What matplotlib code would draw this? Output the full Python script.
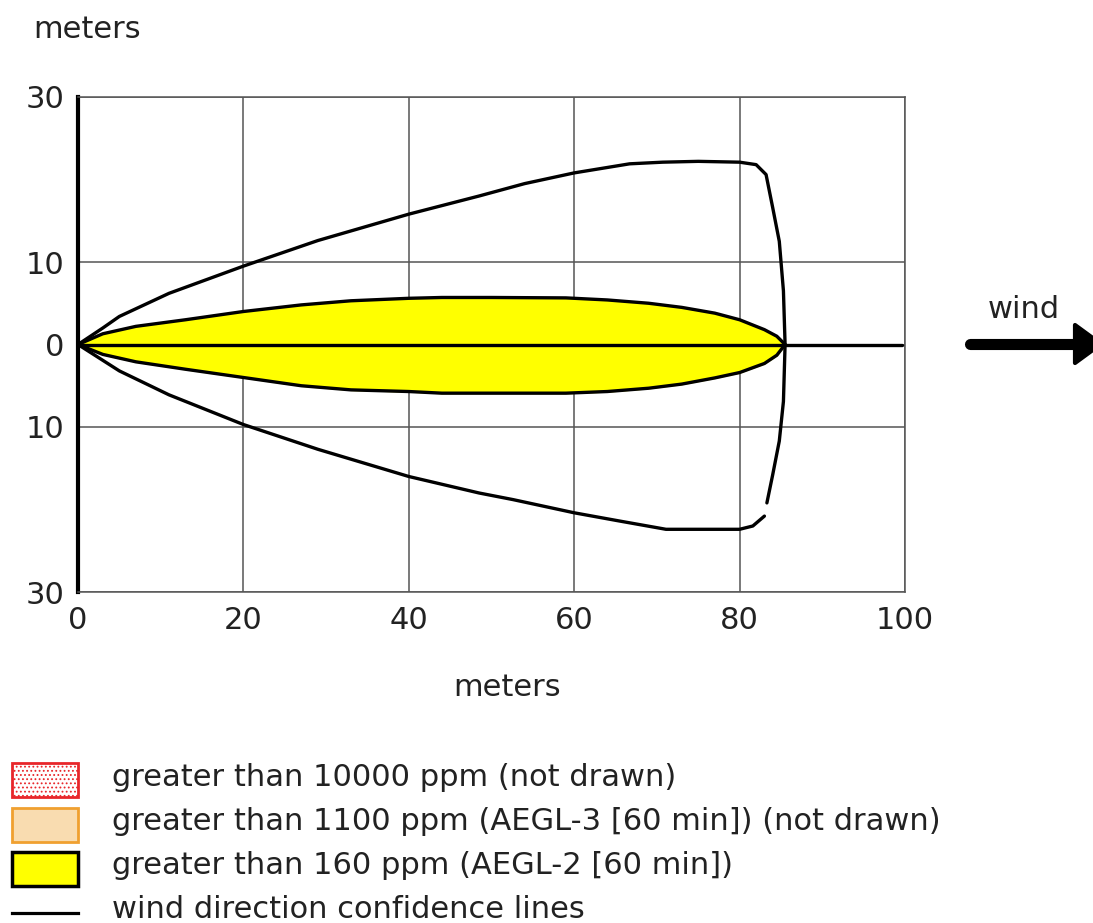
import numpy as np
import matplotlib.pyplot as plt
from matplotlib.patches import Rectangle, FancyArrow

# threat zone (AEGL-2) outline, meters
zone_x = [0, 3, 7, 13, 20, 27, 33, 40, 44, 50, 59, 64, 69, 73, 77, 80, 83, 84.5, 85.5]
zone_upper = [0, 1.3, 2.2, 3.0, 4.0, 4.8, 5.3, 5.6, 5.7, 5.7, 5.65, 5.4, 5.0, 4.5, 3.8, 3.0, 1.8, 1.0, 0]
zone_lower = [0, -1.2, -2.1, -3.0, -4.0, -5.0, -5.5, -5.7, -5.9, -5.9, -5.9, -5.7, -5.3, -4.8, -4.05, -3.4, -2.3, -1.3, 0]

# wind direction confidence lines
conf_up_x = [0, 3, 5, 11, 20, 29, 40, 48.5, 54, 60, 66.7, 70.7, 75, 80, 82, 83.2, 84.0, 84.8,
             85.3, 85.5, 85.3, 84.8, 84.0, 83.3]
conf_up_y = [0, 2.0, 3.4, 6.2, 9.5, 12.6, 15.8, 18.0, 19.5, 20.8, 21.9, 22.1, 22.2, 22.1, 21.8, 20.6,
             16.6, 12.5, 6.5, 0, -6.9, -11.7, -15.8, -19.2]
conf_lo_x = [0, 5, 11, 20, 29, 40, 48.5, 52.6, 60, 65.5, 71.1, 75, 80, 81.6, 83.0]
conf_lo_y = [0, -3.2, -6.1, -9.7, -12.7, -16.0, -18.0, -18.8, -20.4, -21.4, -22.4, -22.4, -22.4, -22.0, -20.8]

center_x = [0, 99.6]
center_y = [0, 0]

x_ticks = [0, 20, 40, 60, 80, 100]
y_ticks = [-30, -10, 0, 10, 30]

legend_labels = ['greater than 10000 ppm (not drawn)',
                 'greater than 1100 ppm (AEGL-3 [60 min]) (not drawn)',
                 'greater than 160 ppm (AEGL-2 [60 min])',
                 'wind direction confidence lines']

FS = 22
TXT = '#222222'
plt.rcParams['hatch.linewidth'] = 0.8

W, H = 1093, 923
fig = plt.figure(figsize=(W / 100, H / 100), dpi=100)
ax = fig.add_axes([78 / W, 1 - 592 / H, 827 / W, 495 / H])

ax.fill_between(zone_x, zone_lower, zone_upper, color='#ffff00', zorder=2)
line_kw = dict(color='black', lw=2.4, zorder=3, solid_capstyle='round', solid_joinstyle='round')
ax.plot(zone_x, zone_upper, **line_kw)
ax.plot(zone_x, zone_lower, **line_kw)
ax.plot(center_x, center_y, **line_kw)
ax.plot(conf_up_x, conf_up_y, **line_kw)
ax.plot(conf_lo_x, conf_lo_y, **line_kw)

ax.set_xlim(0, 100)
ax.set_ylim(-30, 30)
ax.set_xticks(x_ticks)
ax.set_yticks(y_ticks)
ax.set_yticklabels([str(abs(v)) for v in y_ticks])
ax.tick_params(length=0, labelsize=FS, pad=10, labelcolor=TXT)
ax.grid(True, color='#555555', lw=1.1)
ax.set_axisbelow(True)
for s in ['top', 'right', 'bottom']:
    ax.spines[s].set_color('#555555')
    ax.spines[s].set_linewidth(1.1)
ax.spines['left'].set_linewidth(3)
ax.spines['left'].set_color('black')

fig.text(33 / W, 1 - 30 / H, 'meters', fontsize=FS, va='center', ha='left', color=TXT)
fig.text(507 / W, 1 - 688 / H, 'meters', fontsize=FS, va='center', ha='center', color=TXT)

# overlay in pixel coordinates for wind arrow and legend
ov = fig.add_axes([0, 0, 1, 1])
ov.set_xlim(0, W)
ov.set_ylim(H, 0)
ov.axis('off')

ov.text(1024, 310, 'wind', fontsize=FS, ha='center', va='center', color=TXT)
ov.plot([970, 1075], [344, 344], color='black', lw=8, solid_capstyle='round')
ov.add_patch(FancyArrow(1070, 344, 5, 0, width=0, head_width=38, head_length=26,
                        length_includes_head=False, color='black', joinstyle='round',
                        lw=3))

ov.add_patch(Rectangle((12, 763), 66, 34, facecolor='white', edgecolor='#e8262a',
                       lw=2, hatch='....'))
ov.add_patch(Rectangle((12, 808), 66, 34, facecolor='#f9dcb0', edgecolor='#f0a030',
                       lw=2))
ov.add_patch(Rectangle((12, 852), 66, 34, facecolor='#ffff00', edgecolor='black', lw=2.5))
ov.plot([12, 78], [913, 913], color='black', lw=2.3)

for lab, yy in zip(legend_labels, [778, 822, 866, 910]):
    ov.text(112, yy, lab, fontsize=FS, ha='left', va='center', color=TXT)

fig.savefig('out.png', dpi=100)
